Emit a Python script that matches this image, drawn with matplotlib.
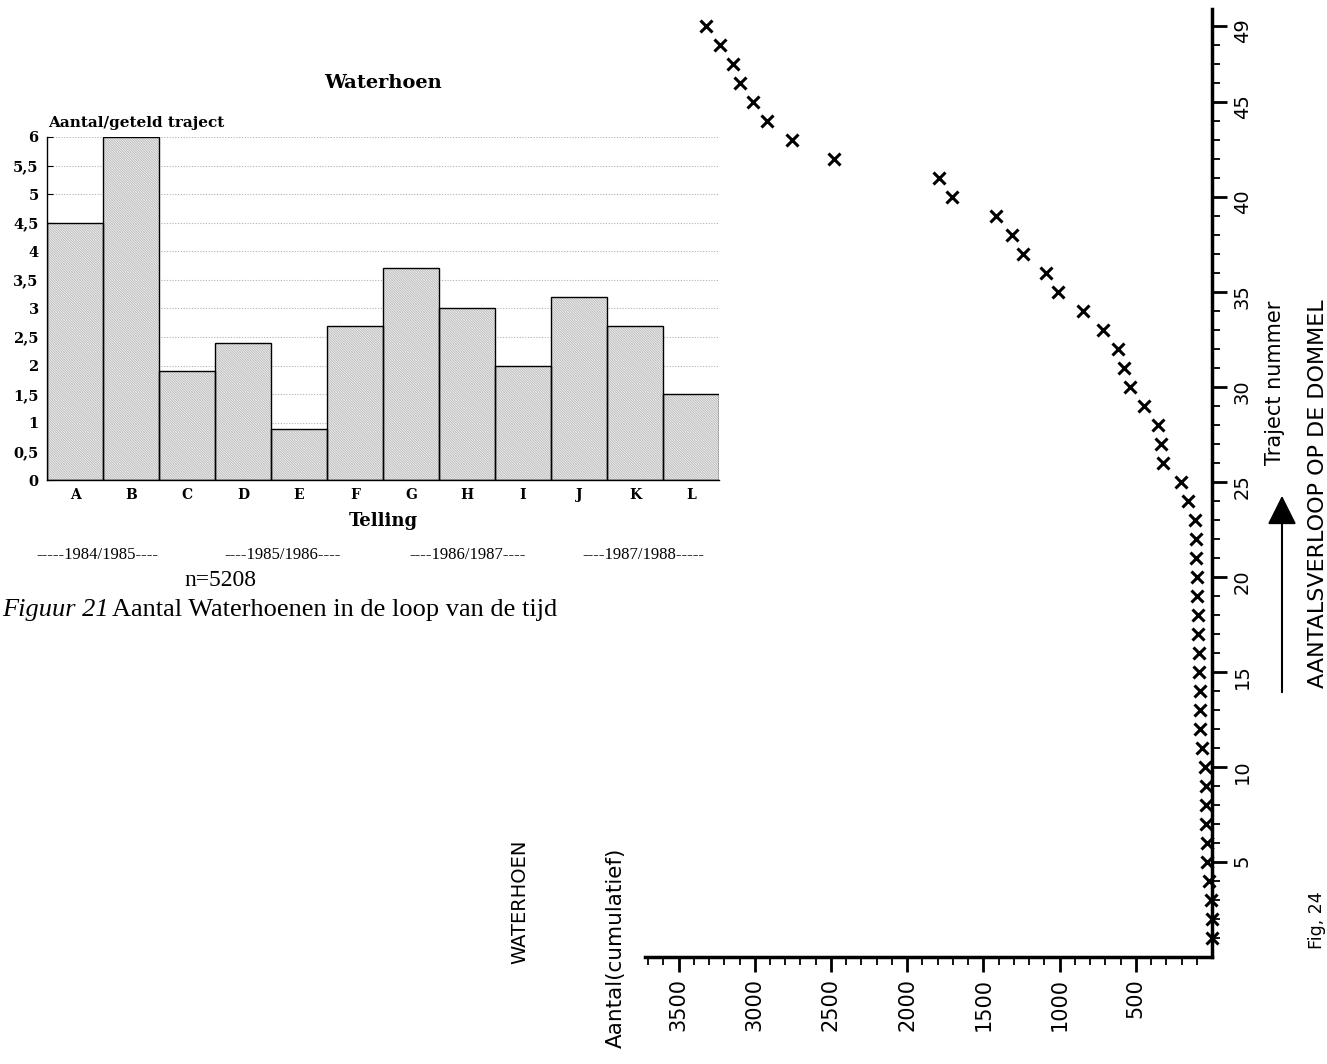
import matplotlib.pyplot as plt
import numpy as np

# --- Figuur 21: Waterhoen, aantal per geteld traject ---
tellingen = ["A", "B", "C", "D", "E", "F", "G", "H", "I", "J", "K", "L"]
aantal_per_traject = [4.5, 6.0, 1.9, 2.4, 0.9, 2.7, 3.7, 3.0, 2.0, 3.2, 2.7, 1.5]
bar_yticks = [0, 0.5, 1, 1.5, 2, 2.5, 3, 3.5, 4, 4.5, 5, 5.5, 6]
seizoenen = ["-----1984/1985----", "----1985/1986----", "----1986/1987----", "----1987/1988-----"]

# --- Fig. 24: aantalsverloop op de Dommel (cumulatief) ---
traject = list(range(1, 50))
cumulatief = [0, 2, 5, 20, 30, 33, 38, 39, 41, 46,
              66, 78, 80, 82, 86, 88, 92, 95, 98, 100,
              105, 108, 112, 158, 204, 322, 335, 355, 447, 540,
              579, 618, 717, 849, 1013, 1092, 1237, 1309, 1414, 1704,
              1789, 2480, 2757, 2921, 3013, 3099, 3145, 3230, 3322]
aantal_ticks = [500, 1000, 1500, 2000, 2500, 3000, 3500]
traject_ticks = [5, 10, 15, 20, 25, 30, 35, 40, 45, 49]

W, H = 1327, 1064
fig = plt.figure(figsize=(W / 100, H / 100), dpi=100)
plt.rcParams['hatch.linewidth'] = 0.6


def fpos(x, y):
    return x / W, 1 - y / H


serif_bold = dict(family="DejaVu Serif", weight="bold")

# ---------------- bar chart ----------------
ax1 = fig.add_axes([47 / W, 1 - 480 / H, 672 / W, 343 / H])
xpos = np.arange(len(tellingen)) + 0.5
for yv in bar_yticks[1:]:
    ax1.axhline(yv, color="#b0b0b0", lw=0.8, ls=(0, (1, 1.5)), zorder=1)
ax1.bar(xpos, aantal_per_traject, width=1, color="#f5f5f5", edgecolor="#b4b4b4",
        hatch="\\" * 14, linewidth=0, zorder=2)
ax1.bar(xpos, aantal_per_traject, width=1, fill=False, edgecolor="black",
        linewidth=1.0, zorder=3)
ax1.set_xlim(0, 12)
ax1.set_ylim(0, 6)
for s in ["top", "right"]:
    ax1.spines[s].set_visible(False)
for s in ["left", "bottom"]:
    ax1.spines[s].set_linewidth(1.0)
ax1.set_xticks(xpos)
ax1.set_xticklabels(tellingen, fontsize=10, **serif_bold)
ax1.set_yticks(bar_yticks)
ax1.set_yticklabels([f"{v:g}".replace(".", ",") for v in bar_yticks], fontsize=10.5, **serif_bold)
ax1.tick_params(direction="in", length=4, width=0.8, pad=6)

fig.text(*fpos(383, 83), "Waterhoen", ha="center", va="center", fontsize=14, **serif_bold)
fig.text(*fpos(48, 123), "Aantal/geteld traject", ha="left", va="center", fontsize=11, **serif_bold)
fig.text(*fpos(383, 521), "Telling", ha="center", va="center", fontsize=13, **serif_bold)

for cx, lab in zip([97, 283, 468, 643], seizoenen):
    fig.text(*fpos(cx, 555), lab, ha="center", va="center", fontsize=12, family="Liberation Serif")
fig.text(*fpos(220, 581), "n=5208", ha="center", va="center", fontsize=17, family="Liberation Serif")
fig.text(*fpos(2, 610), "Figuur 21", ha="left", va="center", fontsize=19,
         family="Liberation Serif", style="italic")
fig.text(*fpos(112, 610), "Aantal Waterhoenen in de loop van de tijd", ha="left", va="center",
         fontsize=19, family="Liberation Serif")

# ---------------- rotated cumulative chart ----------------
ax2 = fig.add_axes([645 / W, 1 - 957 / H, (1212 - 645) / W, (957 - 9) / H])
ax2.set_facecolor("none")
ax2.plot(cumulatief, traject, ls="none", marker="x", ms=8, mew=2.2, color="black", clip_on=False)
ax2.set_xlim(3720, 0)
ax2.set_ylim(0, 49.9)
for s in ["top", "left"]:
    ax2.spines[s].set_visible(False)
for s in ["bottom", "right"]:
    ax2.spines[s].set_linewidth(2.5)
ax2.yaxis.tick_right()
ax2.set_xticks(aantal_ticks)
ax2.set_xticklabels([str(v) for v in aantal_ticks], family="DejaVu Sans", fontsize=15)
ax2.set_xticks(np.arange(100, 3701, 100), minor=True)
ax2.set_yticks(traject_ticks)
ax2.set_yticklabels([str(v) for v in traject_ticks], family="DejaVu Sans", fontsize=14)
ax2.set_yticks(np.arange(1, 50), minor=True)
ax2.tick_params(axis="both", which="major", direction="out", length=11, width=2,
                labelrotation=90, pad=4)
ax2.tick_params(axis="both", which="minor", direction="out", length=6, width=1.3)

sans = dict(family="DejaVu Sans")
fig.text(*fpos(520, 902), "WATERHOEN", rotation=90, ha="center", va="center", fontsize=14, **sans)
fig.text(*fpos(616, 948), "Aantal(cumulatief)", rotation=90, ha="center", va="center", fontsize=15.5, **sans)
fig.text(*fpos(1275, 383), "Traject nummer", rotation=90, ha="center", va="center", fontsize=15, **sans)
fig.text(*fpos(1318, 494), "AANTALSVERLOOP OP DE DOMMEL", rotation=90, ha="center", va="center",
         fontsize=16, **sans)
fig.text(*fpos(1317, 920), "Fig, 24", rotation=90, ha="center", va="center", fontsize=12.5, **sans)
fig.add_artist(plt.Annotation("", xy=fpos(1282, 493), xytext=fpos(1282, 695),
                              xycoords="figure fraction", textcoords="figure fraction",
                              arrowprops=dict(arrowstyle="-|>,head_length=0.9,head_width=0.45",
                                              mutation_scale=20, lw=1.5, color="black")))

fig.savefig("out.png", dpi=100)
